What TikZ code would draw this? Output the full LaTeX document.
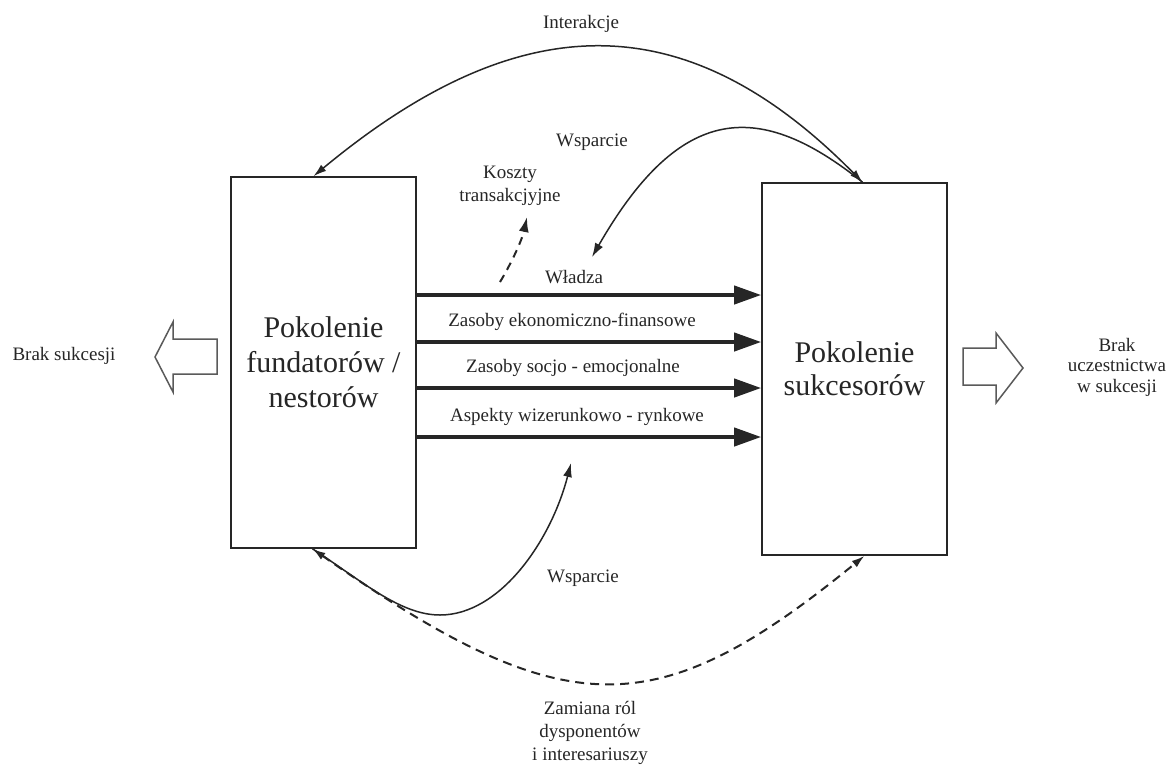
\documentclass[tikz,border=0pt]{standalone}
\usepackage{fontspec}
\setmainfont{Liberation Serif}
\newfontfamily\tmsfont{Liberation Serif}
\usetikzlibrary{arrows.meta}
\definecolor{ink}{HTML}{262626}
\definecolor{hollow}{HTML}{5A5A5A}
\begin{document}
\begin{tikzpicture}[x=1pt,y=-1pt,
  every node/.style={text=ink, font=\tmsfont\fontsize{19}{21}\selectfont},
  genbox/.style={draw=ink, line width=1.6pt, minimum width=185pt, inner sep=0pt, align=center,
    font=\tmsfont\fontsize{30}{35}\selectfont},
  flow/.style={draw=ink, line width=4pt, -{Triangle[length=27pt,width=18pt]}},
  curve/.style={draw=ink, line width=1.5pt},
  dashcurve/.style={draw=ink, line width=2pt, dash pattern=on 9pt off 6pt},
  bigarrow/.style={draw=hollow, line width=1.5pt, fill=white},
  lbl/.style={align=center}
]
\useasboundingbox[fill=white] (0,0) rectangle (1167,764);

% boxes
\node[genbox, minimum height=371pt] (L) at (323.5,362.5) {Pokolenie\\fundatorów /\\nestorów};
\node[genbox, minimum height=372pt, font=\tmsfont\fontsize{30}{33}\selectfont] (R) at (854.5,369) {Pokolenie\\sukcesorów};

% horizontal flows
\coordinate (y1) at (0,295);
\coordinate (y2) at (0,342);
\coordinate (y3) at (0,388);
\coordinate (y4) at (0,437);
\draw[flow] (L.east |- y1) -- (R.west |- y1);
\draw[flow] (L.east |- y2) -- (R.west |- y2);
\draw[flow] (L.east |- y3) -- (R.west |- y3);
\draw[flow] (L.east |- y4) -- (R.west |- y4);
\node (f1) at (574,277) {Władza};
\node (f2) at (572,322) {Zasoby ekonomiczno-finansowe};
\node (f3) at (573,368) {Zasoby socjo - emocjonalne};
\node (f4) at (577,417) {Aspekty wizerunkowo - rynkowe};

% Interakcje
\draw[curve, {Latex[length=13pt,width=8pt]}-{Latex[length=13pt,width=8pt]}]
  ([xshift=-10pt]L.north) .. controls (521,4) and (687,4) .. ([xshift=8pt]R.north);
\node (inter) at (581,24) {Interakcje};

% top Wsparcie
\coordinate (wtop) at (592,257);
\draw[curve, -{Latex[length=14pt,width=9pt]}]
  ([xshift=8pt]R.north) .. controls (760,100) and (681,102) .. (wtop);
\node (wsup1) at (592,142) {Wsparcie};

% Koszty transakcyjne
\coordinate (kstart) at (500,282);
\coordinate (kend) at (527,217);
\draw[dashcurve, dash pattern=on 8pt off 6pt, -{Latex[length=15pt,width=10pt]}]
  (kstart) .. controls (512,262) and (522,240) .. (kend);
\node[lbl, font=\tmsfont\fontsize{19}{23}\selectfont] (koszty) at (510,186) {Koszty\\transakcjyjne};

% bottom Wsparcie
\coordinate (wbot) at (571,463);
\draw[curve, -{Latex[length=14pt,width=9pt]}]
  ([xshift=-11pt]L.south) .. controls (362,581) and (400,615) .. (440,615)
  .. controls (500,615) and (551,541) .. (wbot);
\node (wsup2) at (583,578) {Wsparcie};

% Zamiana rol (dashed)
\draw[dashcurve, {Latex[length=13pt,width=8pt]}-{Latex[length=13pt,width=8pt]}]
  ([xshift=-11pt]L.south) .. controls (566,726) and (656,726) .. ([xshift=10pt]R.south);
\node[lbl, font=\tmsfont\fontsize{19}{23}\selectfont] (zam) at (590,733) {Zamiana ról\\dysponentów\\i interesariuszy};

% hollow arrows
\draw[bigarrow] (217,339) -- (173,339) -- (173,322) -- (155,357) -- (173,392) -- (173,374) -- (217,374) -- cycle;
\draw[bigarrow] (963,348) -- (996,348) -- (996,333) -- (1023,368) -- (996,403) -- (996,385) -- (963,385) -- cycle;
\node (brak1) at (64,356) {Brak sukcesji};
\node[lbl, font=\tmsfont\fontsize{19}{20.5}\selectfont] (brak2) at (1117,367) {Brak\\uczestnictwa\\w sukcesji};
\end{tikzpicture}
\end{document}
